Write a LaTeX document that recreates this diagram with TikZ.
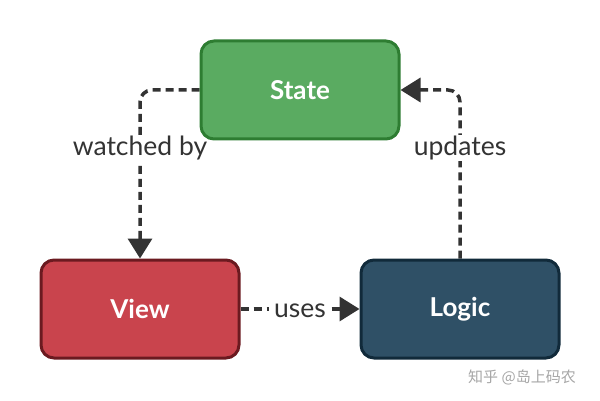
\documentclass[tikz,border=0pt]{standalone}
\usepackage{fontspec}
\setmainfont{Lato}
\newfontfamily\cjk{Noto Sans CJK SC}
\usetikzlibrary{arrows.meta}
\pgfdeclarelayer{bg}\pgfsetlayers{bg,main}
\definecolor{sg}{HTML}{5AAB61}\definecolor{sgb}{HTML}{2E7D32}
\definecolor{vr}{HTML}{C9444D}\definecolor{vrb}{HTML}{6B1A20}
\definecolor{lb}{HTML}{2F5066}\definecolor{lbb}{HTML}{112A3A}
\definecolor{ln}{HTML}{333333}
\begin{document}
\begin{tikzpicture}[x=1pt,y=-1pt,
 box/.style={draw,line width=3pt,rounded corners=13pt,minimum width=198pt,minimum height=98pt,text=white,font=\fontsize{26}{30}\selectfont\bfseries},
 con/.style={draw=ln,line width=3.5pt,dash pattern=on 8pt off 5pt,rounded corners=12pt,-{Triangle[length=20pt,width=24pt]}},
 lab/.style={fill=white,text=ln,font=\fontsize{26.5}{30}\selectfont,inner xsep=5pt,inner ysep=1pt}]
\useasboundingbox (0,0) rectangle (600,401);
\node[box,fill=sg,draw=sgb] (s) at (300,90) {State};
\node[box,fill=vr,draw=vrb] (v) at (140,309) {View};
\node[box,fill=lb,draw=lbb] (l) at (460,309) {Logic};
\begin{pgfonlayer}{bg}
\draw[con] (s.west) -| (v.north);
\draw[con] (l.north) |- (s.east);
\draw[con] (v.east) -- (l.west);
\node[lab] (w) at (140,148) {watched by};
\node[lab] (u) at (460,148) {updates};
\node[lab] (us) at (300,311) {uses};
\end{pgfonlayer}
\node[text=gray!70,font=\cjk\fontsize{15}{17}\selectfont] (wm) at (522,377) {知乎 @岛上码农};
\end{tikzpicture}
\end{document}
